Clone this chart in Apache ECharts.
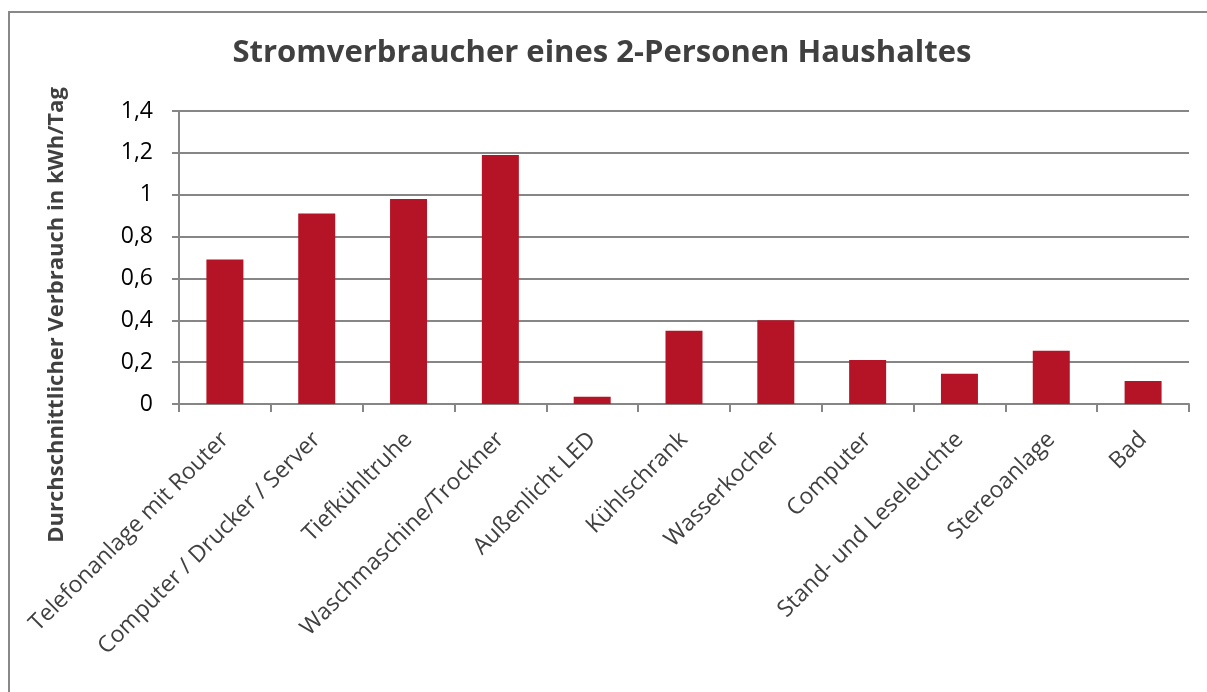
<!DOCTYPE html>
<html>
<head>
<meta charset="utf-8">
<script src="https://cdn.jsdelivr.net/npm/echarts@6/dist/echarts.min.js"></script>
<style>
html,body{margin:0;padding:0;background:#fff;}
#chart{width:1207px;height:692px;}
</style>
</head>
<body>
<div id="chart"></div>
<script>
const categories = [
  "Telefonanlage mit Router",
  "Computer / Drucker / Server",
  "Tiefkühltruhe",
  "Waschmaschine/Trockner",
  "Außenlicht LED",
  "Kühlschrank",
  "Wasserkocher",
  "Computer",
  "Stand- und Leseleuchte",
  "Stereoanlage",
  "Bad"
];
const values = [0.69, 0.91, 0.98, 1.19, 0.035, 0.35, 0.40, 0.21, 0.145, 0.255, 0.11];
const titleText = "Stromverbraucher eines 2-Personen Haushaltes";
const yAxisName = "Durchschnittlicher Verbrauch in kWh/Tag";

const FONT = "Open Sans";
const chart = echarts.init(document.getElementById('chart'), null, {renderer: 'canvas'});
chart.setOption({
  animation: false,
  backgroundColor: '#ffffff',
  title: {
    text: titleText,
    left: 597, top: 33,
    textAlign: 'center',
    textStyle: {fontFamily: FONT, fontWeight: 'bold', fontSize: 31, color: '#404040'}
  },
  graphic: [{
    type: 'rect',
    shape: {x: 9, y: 12, width: 1300, height: 800},
    style: {fill: 'none', stroke: '#888888', lineWidth: 2},
    silent: true
  }, {
    type: 'text',
    x: 57, y: 315,
    rotation: Math.PI / 2,
    style: {
      text: yAxisName,
      fontFamily: FONT, fontWeight: 'bold', fontSize: 22, fill: '#404040',
      align: 'center', verticalAlign: 'middle'
    },
    silent: true
  }],
  grid: {left: 179, right: 18, top: 111, bottom: 288, containLabel: false},
  xAxis: {
    type: 'category',
    data: categories,
    axisLine: {show: true, lineStyle: {color: '#868686', width: 2}},
    axisTick: {show: true, length: 8, lineStyle: {color: '#868686', width: 2}},
    axisLabel: {
      rotate: 45, margin: 32, interval: 0,
      fontFamily: FONT, fontSize: 23, color: '#404040'
    },
    splitLine: {show: false}
  },
  yAxis: {
    type: 'value',
    min: 0, max: 1.4, interval: 0.2,
    axisLine: {show: true, lineStyle: {color: '#868686', width: 2}},
    axisTick: {show: true, length: 7, lineStyle: {color: '#868686', width: 2}},
    axisLabel: {
      margin: 26,
      fontFamily: FONT, fontSize: 23, color: '#000000',
      formatter: v => String(Math.round(v * 10) / 10).replace('.', ',')
    },
    splitLine: {show: true, lineStyle: {color: '#868686', width: 2}}
  },
  series: [{
    type: 'bar',
    data: values,
    barWidth: 37,
    itemStyle: {color: '#B51426'}
  }]
});
</script>
</body>
</html>
